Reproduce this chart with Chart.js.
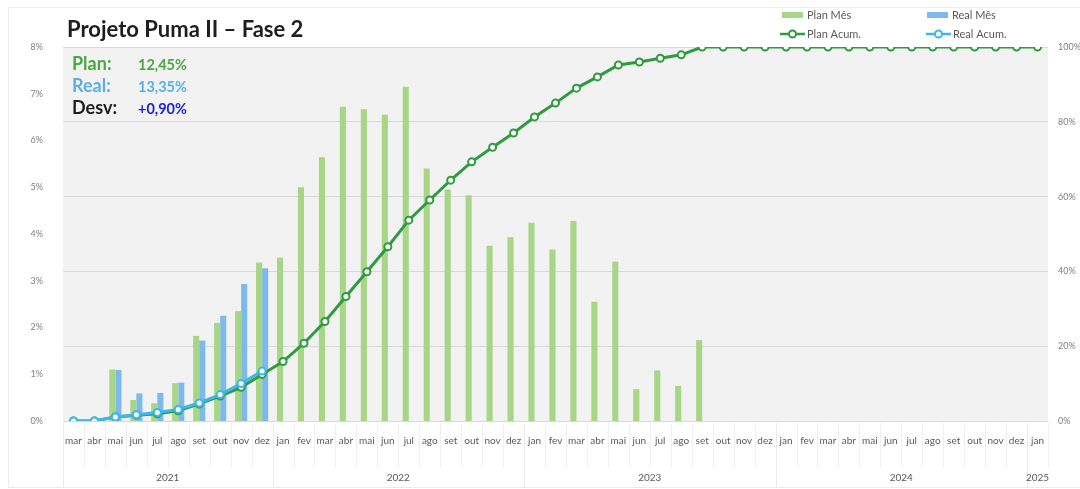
<!DOCTYPE html>
<html lang="pt">
<head>
    <meta charset="UTF-8">
    <title>Projeto Puma II – Fase 2</title>
    <script src="https://cdn.jsdelivr.net/npm/chart.js"></script>
    <style>
        html, body { margin: 0; padding: 0; background: #fff; }
        canvas { display: block; }
    </style>
</head>
<body>
    <canvas id="chart" width="1080" height="489"></canvas>

    <script>
        // categories
        const months = ['mar','abr','mai','jun','jul','ago','set','out','nov','dez',
            'jan','fev','mar','abr','mai','jun','jul','ago','set','out','nov','dez',
            'jan','fev','mar','abr','mai','jun','jul','ago','set','out','nov','dez',
            'jan','fev','mar','abr','mai','jun','jul','ago','set','out','nov','dez',
            'jan'];
        const years = ['2021', '2022', '2023', '2024', '2025'];
        const yearSpans = [10, 12, 12, 12, 1];

        // monthly % (left axis)
        const planMes = [0, 0, 1.10, 0.45, 0.38, 0.81, 1.82, 2.10, 2.35, 3.39,
            3.49, 5.00, 5.64, 6.72, 6.67, 6.55, 7.15, 5.40, 4.95, 4.83, 3.75, 3.93,
            4.24, 3.67, 4.28, 2.55, 3.41, 0.68, 1.08, 0.75, 1.73, 0, 0, 0,
            0, 0, 0, 0, 0, 0, 0, 0, 0, 0, 0, 0,
            0];
        const realMes = [0, 0, 1.09, 0.59, 0.60, 0.82, 1.72, 2.25, 2.93, 3.27];

        // cumulative % (right axis)
        const planAcum = [0, 0, 1.1, 1.55, 1.93, 2.74, 4.56, 6.66, 9.01, 12.45,
            15.9, 20.8, 26.6, 33.3, 39.9, 46.6, 53.7, 59.1, 64.4, 69.3, 73.2, 77.0,
            81.3, 85.0, 89.0, 92.0, 95.2, 96.0, 97.0, 97.9, 100, 100, 100, 100,
            100, 100, 100, 100, 100, 100, 100, 100, 100, 100, 100, 100,
            100];
        const realAcum = [0, 0, 1.09, 1.68, 2.28, 3.10, 4.82, 7.07, 10.0, 13.35];

        const FONT = 'Lato, "Open Sans", sans-serif';
        Chart.defaults.font.family = FONT;

        const fmt = v => v.toFixed(2).replace('.', ',') + '%';

        // plot background + outer frame
        const bgPlugin = {
            id: 'bg',
            beforeDraw(chart) {
                const { ctx, chartArea: a } = chart;
                ctx.save();
                ctx.fillStyle = '#fff';
                ctx.fillRect(0, 0, chart.width, chart.height);
                ctx.strokeStyle = '#ececec';
                ctx.lineWidth = 1;
                ctx.strokeRect(8.5, 7.5, chart.width, chart.height - 9);
                ctx.fillStyle = '#f2f2f2';
                ctx.fillRect(a.left, a.top, a.right - a.left, a.bottom - a.top);
                ctx.restore();
            }
        };

        // month separators and year row
        const axisPlugin = {
            id: 'yearAxis',
            afterDraw(chart) {
                const { ctx, chartArea: a } = chart;
                const x = chart.scales.x;
                const half = (x.getPixelForValue(1) - x.getPixelForValue(0)) / 2;
                ctx.save();
                ctx.strokeStyle = '#efefef';
                ctx.lineWidth = 1;
                for (let i = 0; i <= months.length; i++) {
                    const px = Math.round(x.getPixelForValue(i) - half) + 0.5;
                    ctx.beginPath();
                    ctx.moveTo(px, a.bottom + 2);
                    ctx.lineTo(px, a.bottom + 46);
                    ctx.stroke();
                }
                let start = 0;
                ctx.font = '10px ' + FONT;
                ctx.textAlign = 'center';
                ctx.textBaseline = 'middle';
                years.forEach((yr, k) => {
                    const end = start + yearSpans[k] - 1;
                    const bx = Math.round(x.getPixelForValue(start) - half) + 0.5;
                    ctx.strokeStyle = '#eaeaea';
                    ctx.beginPath();
                    ctx.moveTo(bx, a.bottom + 2);
                    ctx.lineTo(bx, chart.height - 2);
                    ctx.stroke();
                    const cx = (x.getPixelForValue(start) + x.getPixelForValue(end)) / 2;
                    ctx.fillStyle = '#595959';
                    ctx.fillText(yr, cx, a.bottom + 57);
                    start = end + 1;
                });
                ctx.restore();
            }
        };

        // title, summary box, legend
        const textPlugin = {
            id: 'texts',
            afterDraw(chart) {
                const ctx = chart.ctx;
                const ds = chart.data.datasets;
                ctx.save();
                ctx.textBaseline = 'middle';
                ctx.textAlign = 'left';

                ctx.fillStyle = '#1e1e1e';
                ctx.font = 'bold 22px ' + FONT;
                ctx.fillText('Projeto Puma II – Fase 2', 67, 30);

                const last = realAcum.length - 1;
                const p = planAcum[last], r = realAcum[last], d = r - p;
                const rows = [
                    ['Plan:', fmt(p), '#4aa843', '#4aa843'],
                    ['Real:', fmt(r), '#5aaee6', '#5aaee6'],
                    ['Desv:', (d >= 0 ? '+' : '') + fmt(d), '#1e1e1e', '#2222d6']
                ];
                rows.forEach((row, k) => {
                    const y = 64 + k * 22;
                    ctx.font = 'bold 18px ' + FONT;
                    ctx.fillStyle = row[2];
                    ctx.fillText(row[0], 72, y);
                    ctx.font = 'bold 14.5px ' + FONT;
                    ctx.fillStyle = row[3];
                    ctx.fillText(row[1], 138, y + 1);
                });

                // legend: 2 x 2
                const items = [
                    { d: ds[2], x: 782, y: 15 },
                    { d: ds[3], x: 927, y: 15 },
                    { d: ds[1], x: 780, y: 34 },
                    { d: ds[0], x: 926, y: 34 }
                ];
                ctx.font = '11px ' + FONT;
                items.forEach(it => {
                    const d = it.d;
                    if (d.type === 'line') {
                        ctx.strokeStyle = d.borderColor;
                        ctx.lineWidth = 2.5;
                        ctx.beginPath();
                        ctx.moveTo(it.x, it.y);
                        ctx.lineTo(it.x + 25, it.y);
                        ctx.stroke();
                        ctx.beginPath();
                        ctx.arc(it.x + 12.5, it.y, 3.5, 0, Math.PI * 2);
                        ctx.fillStyle = '#fff';
                        ctx.fill();
                        ctx.lineWidth = 2;
                        ctx.stroke();
                        ctx.fillStyle = '#595959';
                        ctx.fillText(d.label, it.x + 27, it.y);
                    } else {
                        ctx.fillStyle = d.backgroundColor;
                        ctx.fillRect(it.x, it.y - 3, 21, 6);
                        ctx.fillStyle = '#595959';
                        ctx.fillText(d.label, it.x + 25, it.y);
                    }
                });
                ctx.restore();
            }
        };

        const pct = v => v + '%';

        new Chart(document.getElementById('chart'), {
            type: 'bar',
            data: {
                labels: months,
                datasets: [
                    {
                        type: 'line',
                        label: 'Real Acum.',
                        data: realAcum,
                        yAxisID: 'y1',
                        borderColor: '#3db6e8',
                        borderWidth: 3,
                        pointRadius: 3.5,
                        pointBorderWidth: 2,
                        pointBackgroundColor: '#fff',
                        pointBorderColor: '#3db6e8',
                        order: 0
                    },
                    {
                        type: 'line',
                        label: 'Plan Acum.',
                        data: planAcum,
                        yAxisID: 'y1',
                        borderColor: '#2f9b3f',
                        borderWidth: 3,
                        pointRadius: 3.5,
                        pointBorderWidth: 2,
                        pointBackgroundColor: '#fff',
                        pointBorderColor: '#2f9b3f',
                        order: 1
                    },
                    {
                        label: 'Plan Mês',
                        data: planMes,
                        yAxisID: 'y',
                        backgroundColor: '#a6d686',
                        categoryPercentage: 0.58,
                        barPercentage: 1.0,
                        order: 2
                    },
                    {
                        label: 'Real Mês',
                        data: realMes,
                        yAxisID: 'y',
                        backgroundColor: '#7db9ea',
                        categoryPercentage: 0.58,
                        barPercentage: 1.0,
                        order: 3
                    }
                ]
            },
            options: {
                responsive: false,
                animation: false,
                layout: { padding: { top: 47 } },
                plugins: {
                    legend: { display: false },
                    tooltip: { enabled: false }
                },
                scales: {
                    x: {
                        grid: { display: false },
                        border: { display: false },
                        ticks: {
                            autoSkip: false, maxRotation: 0, minRotation: 0,
                            font: { size: 10 }, color: '#595959', padding: 6
                        },
                        afterFit(s) { s.height = 68; }
                    },
                    y: {
                        position: 'left',
                        min: 0, max: 8,
                        grid: { display: false },
                        border: { display: false },
                        ticks: { stepSize: 1, callback: pct, font: { size: 9 }, color: '#7f7f7f', padding: 12 },
                        afterFit(s) { s.width = 63; }
                    },
                    y1: {
                        position: 'right',
                        min: 0, max: 100,
                        grid: { color: '#d9d9d9', drawTicks: false },
                        border: { display: false },
                        ticks: { stepSize: 20, callback: pct, font: { size: 9 }, color: '#7f7f7f', padding: 10 },
                        afterFit(s) { s.width = 32; }
                    }
                }
            },
            plugins: [bgPlugin, axisPlugin, textPlugin]
        });
    </script>
</body>
</html>
